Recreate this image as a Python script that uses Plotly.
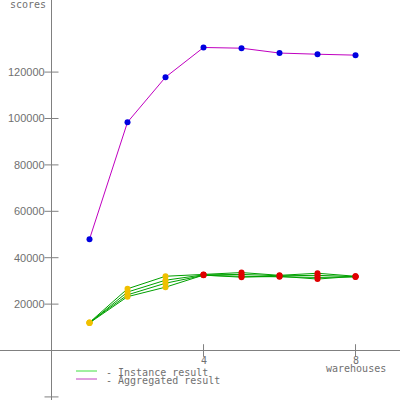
import plotly.graph_objects as go

# ---- data ----
warehouses = [1, 2, 3, 4, 5, 6, 7, 8]
instance_1 = [12100, 26600, 32000, 32800, 33600, 32400, 33300, 32000]
instance_2 = [11900, 25200, 30300, 32600, 32800, 32200, 32400, 31800]
instance_3 = [12100, 24000, 29000, 32400, 32000, 31800, 31500, 31700]
instance_4 = [11900, 23200, 27300, 32500, 31600, 32000, 30800, 32000]
instances = [instance_1, instance_2, instance_3, instance_4]
aggregated = [48000, 98400, 117800, 130600, 130300, 128200, 127700, 127300]
ramp_up_last = 3  # points up to this warehouse count drawn yellow, then red

y_tick_vals = [-20000, 20000, 40000, 60000, 80000, 100000, 120000]
y_tick_labels = ["", "20000", "40000", "60000", "80000", "100000", "120000"]
x_tick_vals = [4, 8]
x_tick_labels = ["4", "8"]
x_title = "warehouses"
y_title = "scores"
legend_labels = ["- Instance result", "- Aggregated result"]

# ---- style ----
AXIS = "#808080"
TEXT = "#707070"
MONO = "DejaVu Sans Mono, Liberation Mono, monospace"
SANS = "Liberation Sans, Arial, sans-serif"

fig = go.Figure()

inst_colors = ["#f0c000" if w <= ramp_up_last else "#e00000" for w in warehouses]
for vals in instances:
    fig.add_trace(go.Scatter(
        x=warehouses, y=vals, mode="lines+markers",
        line=dict(color="#00a000", width=1),
        marker=dict(color=inst_colors, size=6, line=dict(width=0)),
        hoverinfo="skip", showlegend=False))

fig.add_trace(go.Scatter(
    x=warehouses, y=aggregated, mode="lines+markers",
    line=dict(color="#c000c0", width=1),
    marker=dict(color="#0000e0", size=6, line=dict(width=0)),
    hoverinfo="skip", showlegend=False))

# tick marks crossing the axes
fig.add_trace(go.Scatter(
    x=[0] * len(y_tick_vals), y=y_tick_vals, mode="markers",
    marker=dict(symbol="line-ew", size=10, line=dict(color=AXIS, width=1)),
    hoverinfo="skip", showlegend=False))
fig.add_trace(go.Scatter(
    x=x_tick_vals, y=[0] * len(x_tick_vals), mode="markers",
    marker=dict(symbol="line-ns", size=9, line=dict(color=AXIS, width=1)),
    hoverinfo="skip", showlegend=False))

annotations = []
for v, t in zip(y_tick_vals, y_tick_labels):
    if t:
        annotations.append(dict(x=0, y=v, xref="x", yref="y", text=t,
                                xanchor="right", yanchor="middle", xshift=-5,
                                showarrow=False,
                                font=dict(family=SANS, size=11, color=TEXT)))
for v, t in zip(x_tick_vals, x_tick_labels):
    annotations.append(dict(x=v, y=0, xref="x", yref="y", text=t,
                            xanchor="center", yanchor="middle", yshift=-10,
                            showarrow=False,
                            font=dict(family=MONO, size=10, color=TEXT)))
annotations.append(dict(x=x_tick_vals[-1], y=0, xref="x", yref="y", text=x_title,
                        xanchor="center", yanchor="middle", yshift=-18,
                        showarrow=False,
                        font=dict(family=MONO, size=10, color=TEXT)))
annotations.append(dict(x=0, y=1 - 5 / 400, xref="x", yref="paper", text=y_title,
                        xanchor="right", yanchor="middle", xshift=-4,
                        showarrow=False,
                        font=dict(family=MONO, size=10, color=TEXT)))

legend_colors = ["#40e040", "#c040c0"]
shapes = []
for i, (lab, col) in enumerate(zip(legend_labels, legend_colors)):
    py = 371 + 8 * i
    shapes.append(dict(type="line", xref="paper", yref="paper",
                       x0=76 / 400, x1=97 / 400, y0=1 - py / 400, y1=1 - py / 400,
                       line=dict(color=col, width=1)))
    annotations.append(dict(x=104 / 400, y=1 - (py + 1) / 400, xref="paper", yref="paper",
                            text=lab, xanchor="left", yanchor="middle",
                            showarrow=False,
                            font=dict(family=MONO, size=10, color=TEXT)))

fig.update_layout(
    width=400, height=400,
    margin=dict(l=0, r=0, t=0, b=0),
    paper_bgcolor="white", plot_bgcolor="white",
    xaxis=dict(range=[-1.355, 9.17], showgrid=False, showticklabels=False,
               zeroline=True, zerolinecolor=AXIS, zerolinewidth=1, ticks=""),
    yaxis=dict(range=[-21330, 151070], showgrid=False, showticklabels=False,
               zeroline=True, zerolinecolor=AXIS, zerolinewidth=1, ticks=""),
    annotations=annotations, shapes=shapes,
)

fig.write_html("out.html", config={"displayModeBar": False},
               post_script="document.body.style.margin='0';document.body.style.overflow='hidden';")
